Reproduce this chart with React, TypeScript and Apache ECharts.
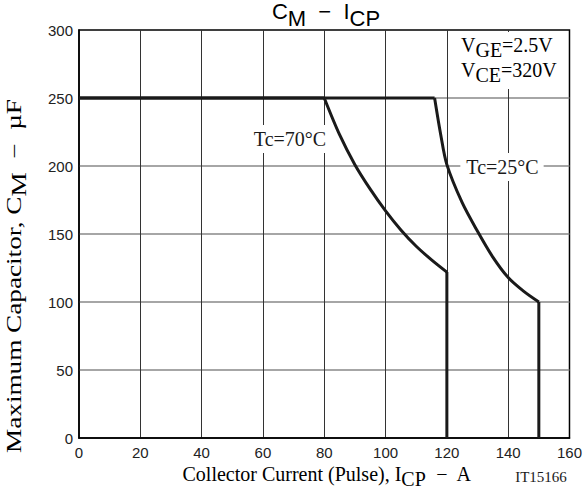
import React, { useEffect, useRef } from "react";
import * as echarts from "echarts";

const xTicks = [0, 20, 40, 60, 80, 100, 120, 140, 160];
const yTicks = [0, 50, 100, 150, 200, 250, 300];

// Tc = 70°C curve
const tc70X = [0, 80, 85, 90, 95, 100, 105, 110, 115, 120, 120];
const tc70Y = [250, 250, 223, 201, 183, 167, 153, 141, 131, 122, 0];

// Tc = 25°C curve
const tc25X = [0, 116, 118, 120, 125, 130, 135, 140, 145, 150, 150];
const tc25Y = [250, 250, 223, 201, 173, 152, 133, 118, 108, 100, 0];

const SERIF = "Liberation Serif";
const SANS = "Liberation Sans";

export default function App() {
  const ref = useRef<HTMLDivElement>(null);
  useEffect(() => {
    if (!ref.current) return;
    const chart = echarts.init(ref.current, undefined, { renderer: "svg" });

    const serifRich = (size: number, drop: number) => ({
      a: { fontSize: size, fontFamily: SERIF, color: "#1a1a1a", verticalAlign: "bottom", padding: [0, 0, drop, 0] },
      s: { fontSize: size, fontFamily: SERIF, color: "#1a1a1a", verticalAlign: "bottom" },
    });

    const lineStyle = { color: "#1a1a1a", width: 3 };

    const curveSeries = (name: string, xs: number[], ys: number[]) => {
      const pts = xs.map((x, i) => [x, ys[i]]);
      const n = pts.length;
      return [
        { type: "line", name, data: pts.slice(0, 2), symbol: "none", lineStyle, z: 3 },
        { type: "line", name, data: pts.slice(1, n - 1), symbol: "none", smooth: 0.3, lineStyle, z: 3 },
        { type: "line", name, data: pts.slice(n - 2), symbol: "none", lineStyle, z: 3 },
      ];
    };

    chart.setOption({
      animation: false,
      backgroundColor: "#fff",
      grid: {
        left: 79,
        top: 30,
        right: 14,
        bottom: 55,
        show: true,
        borderColor: "#000",
        borderWidth: 1.5,
        backgroundColor: "transparent",
      },
      xAxis: {
        type: "value",
        min: xTicks[0],
        max: xTicks[xTicks.length - 1],
        interval: 20,
        axisLine: { show: true, lineStyle: { color: "#000", width: 1.5 } },
        axisTick: { show: false },
        axisLabel: { fontSize: 15, fontFamily: SANS, color: "#222", margin: 7 },
        splitLine: { show: true, showMinLine: false, showMaxLine: false, lineStyle: { color: "#333", width: 1 } },
      },
      yAxis: {
        type: "value",
        min: yTicks[0],
        max: yTicks[yTicks.length - 1],
        interval: 50,
        axisLine: { show: true, lineStyle: { color: "#000", width: 1.5 } },
        axisTick: { show: false },
        axisLabel: { fontSize: 15, fontFamily: SANS, color: "#222", margin: 6 },
        splitLine: { show: true, showMinLine: false, showMaxLine: false, lineStyle: { color: "#888", width: 1.5 } },
      },
      series: [
        ...curveSeries("Tc=70°C", tc70X, tc70Y),
        ...curveSeries("Tc=25°C", tc25X, tc25Y),
      ],
      graphic: [
        {
          type: "text",
          x: 326,
          y: 15,
          style: {
            text: "{a|C}{s|M}{a|  −  I}{s|CP}",
            align: "center",
            verticalAlign: "middle",
            rich: {
              a: { fontSize: 22, fontFamily: SANS, color: "#1a1a1a", verticalAlign: "bottom", padding: [0, 0, 7, 0] },
              s: { fontSize: 22, fontFamily: SANS, color: "#1a1a1a", verticalAlign: "bottom" },
            },
          },
          z: 10,
        },
        {
          type: "rect",
          shape: { x: 456, y: 32, width: 108, height: 57 },
          style: { fill: "#fff" },
          z: 8,
        },
        {
          type: "text",
          x: 461,
          y: 47,
          style: {
            text: "{a|V}{s|GE}{a|=2.5V}",
            align: "left",
            verticalAlign: "middle",
            rich: serifRich(20, 5),
          },
          z: 10,
        },
        {
          type: "text",
          x: 461,
          y: 72,
          style: {
            text: "{a|V}{s|CE}{a|=320V}",
            align: "left",
            verticalAlign: "middle",
            rich: serifRich(20, 5),
          },
          z: 10,
        },
        {
          type: "text",
          x: 290,
          y: 139,
          style: {
            text: "Tc=70°C",
            align: "center",
            verticalAlign: "middle",
            fontSize: 20,
            fontFamily: SERIF,
            fill: "#1a1a1a",
            backgroundColor: "#fff",
            padding: [4, 2, 4, 2],
          },
          z: 10,
        },
        {
          type: "text",
          x: 502,
          y: 167,
          style: {
            text: "Tc=25°C",
            align: "center",
            verticalAlign: "middle",
            fontSize: 20,
            fontFamily: SERIF,
            fill: "#1a1a1a",
            backgroundColor: "#fff",
            padding: [4, 5, 4, 6],
          },
          z: 10,
        },
        {
          type: "text",
          x: 17,
          y: 276,
          rotation: Math.PI / 2,
          scaleX: 1.36,
          style: {
            text: "{a|Maximum Capacitor, C}{s|M}{a|  −  µF}",
            align: "center",
            verticalAlign: "middle",
            rich: serifRich(20, 5),
          },
          z: 10,
        },
        {
          type: "text",
          x: 327,
          y: 476,
          style: {
            text: "{a|Collector Current (Pulse), I}{s|CP}{a|  −  A}",
            align: "center",
            verticalAlign: "middle",
            rich: serifRich(20, 5),
          },
          z: 10,
        },
        {
          type: "text",
          x: 541,
          y: 477,
          style: {
            text: "IT15166",
            align: "center",
            verticalAlign: "middle",
            fontSize: 15,
            fontFamily: SERIF,
            fill: "#1a1a1a",
          },
          z: 10,
        },
      ],
    });

    return () => chart.dispose();
  }, []);

  return (
    <div
      ref={ref}
      style={{ position: "fixed", left: 0, top: 0, width: 585, height: 493, background: "#fff" }}
    />
  );
}
